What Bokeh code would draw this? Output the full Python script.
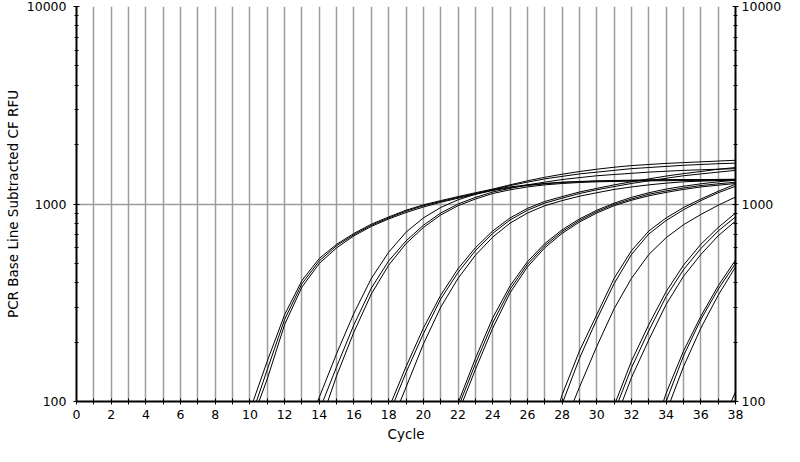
from bokeh.plotting import figure
from bokeh.models import FixedTicker, LogAxis, Range1d, PrintfTickFormatter
from bokeh.embed import file_html
from bokeh.resources import INLINE

# Cycle axis
x_start, x_end = 0, 38
x_labels = list(range(0, 39, 2))
x_minor = list(range(1, 39, 2))
y_major = [100, 1000, 10000]
y_minor = [200, 300, 400, 500, 600, 700, 800, 900,
           2000, 3000, 4000, 5000, 6000, 7000, 8000, 9000]

# Amplification curves: (first cycle, RFU at each cycle up to 38)
g1_a = (10, [90, 160, 275, 410, 530, 625, 710, 790, 860, 930, 990, 1040, 1090, 1140, 1190,
             1250, 1310, 1365, 1415, 1460, 1500, 1535, 1565, 1585, 1605, 1620, 1635, 1650, 1665])
g1_b = (10, [80, 145, 260, 395, 515, 615, 700, 780, 850, 920, 980, 1030, 1080, 1130, 1180,
             1220, 1250, 1270, 1290, 1300, 1310, 1315, 1320, 1325, 1328, 1330, 1330, 1332, 1335])
g1_c = (10, [75, 130, 245, 380, 500, 600, 690, 770, 840, 905, 965, 1020, 1070, 1120, 1170,
             1210, 1240, 1265, 1285, 1295, 1305, 1310, 1315, 1320, 1322, 1325, 1325, 1327, 1330])
g2_a = (13, [65, 105, 175, 280, 420, 570, 720, 850, 960, 1050, 1120, 1180, 1240, 1290, 1340,
             1380, 1420, 1450, 1480, 1510, 1530, 1550, 1570, 1585, 1600, 1610])
g2_b = (14, [90, 150, 245, 375, 515, 650, 780, 900, 1000, 1080, 1150, 1200, 1250, 1290, 1330,
             1360, 1390, 1410, 1430, 1450, 1465, 1480, 1490, 1500, 1510])
g2_c = (14, [75, 135, 225, 350, 490, 630, 760, 880, 980, 1060, 1130, 1180, 1220, 1250, 1270,
             1285, 1295, 1300, 1305, 1310, 1312, 1315, 1317, 1318, 1320])
g3_a = (18, [92, 150, 235, 345, 470, 600, 730, 850, 950, 1030, 1090, 1150, 1200, 1250, 1295,
             1340, 1385, 1425, 1460, 1500, 1530])
g3_b = (18, [85, 140, 220, 330, 450, 580, 710, 830, 930, 1010, 1070, 1130, 1180, 1225, 1270,
             1310, 1350, 1390, 1420, 1450, 1480])
g3_c = (18, [72, 118, 195, 300, 420, 550, 680, 800, 900, 980, 1040, 1095, 1140, 1185, 1220,
             1250, 1275, 1295, 1305, 1315, 1320])
g4_a = (22, [98, 165, 265, 385, 510, 630, 740, 840, 930, 1010, 1080, 1140, 1190, 1230, 1265, 1295, 1320])
g4_b = (22, [93, 155, 250, 370, 495, 615, 725, 825, 915, 995, 1060, 1120, 1165, 1205, 1240, 1265, 1290])
g4_c = (22, [87, 145, 235, 355, 480, 600, 710, 810, 900, 980, 1045, 1100, 1145, 1185, 1220, 1245, 1270])
g5_a = (27, [55, 108, 180, 275, 420, 580, 730, 850, 960, 1060, 1160, 1260])
g5_b = (28, [97, 165, 260, 395, 555, 705, 825, 935, 1040, 1140, 1230])
g5_c = (28, [72, 118, 190, 295, 420, 555, 675, 785, 885, 985, 1085])
g6_a = (31, [95, 160, 245, 360, 490, 625, 760, 900])
g6_b = (31, [88, 148, 228, 340, 465, 595, 730, 860])
g6_c = (31, [78, 132, 205, 310, 430, 555, 690, 820])
g7_a = (33, [60, 110, 180, 270, 385, 520])
g7_b = (33, [55, 100, 170, 260, 370, 500])
g7_c = (33, [50, 88, 150, 235, 345, 480])
g8_a = (37, [70, 112])

curves = [g1_a, g1_b, g1_c, g2_a, g2_b, g2_c, g3_a, g3_b, g3_c, g4_a, g4_b, g4_c,
          g5_a, g5_b, g5_c, g6_a, g6_b, g6_c, g7_a, g7_b, g7_c, g8_a]

FONT = "DejaVu Sans"

p = figure(width=784, height=446, x_range=Range1d(x_start, x_end), y_range=Range1d(100, 10000),
           y_axis_type="log", output_backend="svg", toolbar_location=None,
           min_border_left=76, min_border_right=30, min_border_top=6, min_border_bottom=45,
           background_fill_color="white", border_fill_color="white")
p.outline_line_color = None

for start, vals in curves:
    xs = list(range(start, start + len(vals)))
    p.line(xs, vals, line_color="black", line_width=1)

# grids
p.xgrid.ticker = FixedTicker(ticks=list(range(0, 39)))
p.xgrid.grid_line_color = "#9c9c9c"
p.xgrid.grid_line_width = 1.5
p.ygrid.ticker = FixedTicker(ticks=[1000, 10000])
p.ygrid.grid_line_color = "#9c9c9c"
p.ygrid.grid_line_width = 1.5

# x axis
xa = p.xaxis[0]
xa.ticker = FixedTicker(ticks=x_labels, minor_ticks=x_minor)
xa.axis_label = "Cycle"

# y axes
ya = p.yaxis[0]
ya.ticker = FixedTicker(ticks=y_major, minor_ticks=y_minor)
ya.formatter = PrintfTickFormatter(format="%d")
ya.axis_label = "PCR Base Line Subtracted CF RFU"

ra = LogAxis(ticker=FixedTicker(ticks=y_major, minor_ticks=y_minor),
             formatter=PrintfTickFormatter(format="%d"))
p.add_layout(ra, "right")

for ax in (xa, ya, ra):
    ax.axis_line_color = "black"
    ax.axis_line_width = 2
    ax.major_tick_line_color = "black"
    ax.minor_tick_line_color = "black"
    ax.major_tick_in = 3
    ax.major_tick_out = 3
    ax.minor_tick_in = 3
    ax.minor_tick_out = 3
    ax.major_label_text_font = FONT
    ax.major_label_text_font_size = "12.5px"
    ax.major_label_text_color = "black"
    ax.axis_label_text_font = FONT
    ax.axis_label_text_font_size = "13.5px"
    ax.axis_label_text_font_style = "normal"
    ax.axis_label_text_color = "black"

xa.major_label_standoff = 5
xa.axis_label_standoff = 4
ya.major_label_standoff = 7
ya.axis_label_standoff = 3
ra.major_label_standoff = 3
ya.minor_tick_in = 2
ya.minor_tick_out = 2
ra.minor_tick_in = 2
ra.minor_tick_out = 2

open("out.html", "w").write(file_html(p, INLINE))
